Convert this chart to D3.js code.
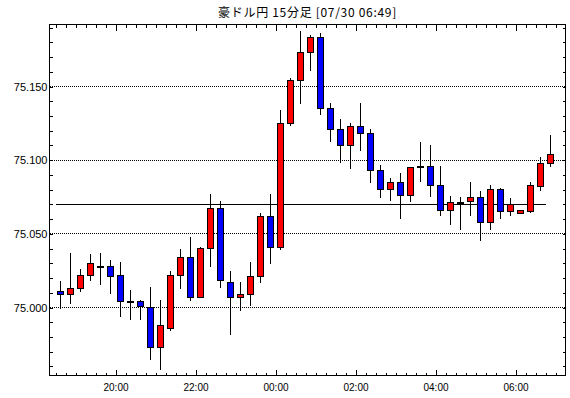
<!DOCTYPE html>
<html>
<head>
<meta charset="utf-8">
<script src="https://cdnjs.cloudflare.com/ajax/libs/d3/7.8.5/d3.min.js"></script>
<style>
  body { margin: 0; background: #fff; }
  svg { display: block; }
  .ylab { font-family: "Liberation Sans", Arial, sans-serif; font-size: 11px; }
  .xlab { font-family: "Liberation Sans", Arial, sans-serif; font-size: 10px; }
</style>
</head>
<body>
<div id="chart"></div>
<script>
// 15-minute candles, AUD/JPY
var times = [
  "07/29 18:30", "07/29 18:45", "07/29 19:00", "07/29 19:15", "07/29 19:30", "07/29 19:45",
  "07/29 20:00", "07/29 20:15", "07/29 20:30", "07/29 20:45", "07/29 21:00", "07/29 21:15",
  "07/29 21:30", "07/29 21:45", "07/29 22:00", "07/29 22:15", "07/29 22:30", "07/29 22:45",
  "07/29 23:00", "07/29 23:15", "07/29 23:30", "07/29 23:45",
  "07/30 00:00", "07/30 00:15", "07/30 00:30", "07/30 00:45", "07/30 01:00", "07/30 01:15",
  "07/30 01:30", "07/30 01:45", "07/30 02:00", "07/30 02:15", "07/30 02:30", "07/30 02:45",
  "07/30 03:00", "07/30 03:15", "07/30 03:30", "07/30 03:45", "07/30 04:00", "07/30 04:15",
  "07/30 04:30", "07/30 04:45", "07/30 05:00", "07/30 05:15", "07/30 05:30", "07/30 05:45",
  "07/30 06:00", "07/30 06:15", "07/30 06:30", "07/30 06:45"
];
var opens = [
  75.011, 75.009, 75.013, 75.022, 75.028, 75.028, 75.022, 75.004, 75.004, 75.000,
  74.973, 74.986, 75.022, 75.034, 75.007, 75.040, 75.067, 75.017, 75.007, 75.009,
  75.021, 75.062, 75.041, 75.125, 75.154, 75.173, 75.183, 75.135, 75.121, 75.110,
  75.123, 75.118, 75.093, 75.080, 75.085, 75.076, 75.095, 75.096, 75.083, 75.066,
  75.071, 75.072, 75.075, 75.058, 75.080, 75.065, 75.064, 75.065, 75.082, 75.098
];
var highs = [
  75.018, 75.037, 75.026, 75.036, 75.037, 75.032, 75.031, 75.012, 75.005, 75.014,
  75.005, 75.025, 75.040, 75.048, 75.041, 75.077, 75.072, 75.025, 75.017, 75.031,
  75.064, 75.077, 75.134, 75.156, 75.188, 75.185, 75.186, 75.139, 75.128, 75.125,
  75.139, 75.121, 75.097, 75.088, 75.091, 75.095, 75.112, 75.110, 75.096, 75.076,
  75.075, 75.085, 75.079, 75.083, 75.081, 75.074, 75.066, 75.085, 75.102, 75.117
];
var lows = [
  75.000, 75.003, 75.011, 75.019, 75.016, 75.010, 74.994, 74.992, 74.992, 74.965,
  74.958, 74.985, 75.013, 75.005, 75.007, 75.028, 75.014, 74.982, 74.998, 75.002,
  75.017, 75.030, 75.040, 75.124, 75.139, 75.161, 75.131, 75.113, 75.099, 75.095,
  75.107, 75.085, 75.075, 75.073, 75.061, 75.072, 75.086, 75.076, 75.063, 75.057,
  75.053, 75.063, 75.046, 75.053, 75.061, 75.063, 75.064, 75.065, 75.080, 75.096
];
var closes = [
  75.009, 75.013, 75.022, 75.030, 75.028, 75.021, 75.004, 75.004, 75.001, 74.973,
  74.988, 75.022, 75.034, 75.007, 75.040, 75.067, 75.018, 75.007, 75.009, 75.021,
  75.062, 75.041, 75.125, 75.154, 75.173, 75.183, 75.135, 75.121, 75.110, 75.123,
  75.118, 75.093, 75.080, 75.085, 75.076, 75.095, 75.096, 75.083, 75.066, 75.071,
  75.071, 75.075, 75.058, 75.080, 75.065, 75.070, 75.066, 75.083, 75.098, 75.104
];
var refLine = 75.070;
var title = "豪ドル円 15分足 [07/30 06:49]";

var svgWidth = 570, svgHeight = 398;
var frame = { left: 49.5, right: 565.5, top: 24.5, bottom: 375.5 };

var parseTime = d3.timeParse("%Y/%m/%d %H:%M");
var data = times.map(function(t, i) {
  return {
    date: parseTime("2020/" + t),
    open: opens[i], high: highs[i], low: lows[i], close: closes[i]
  };
});

var svg = d3.select("#chart").append("svg")
  .attr("width", svgWidth)
  .attr("height", svgHeight);

// x: 10px per 15 minutes
var x = d3.scaleTime()
  .domain([parseTime("2020/07/30 00:00"), parseTime("2020/07/30 02:00")])
  .range([275.5, 355.5]);

var y = d3.scaleLinear()
  .domain([75.000, 75.150])
  .range([307.5, 86.5]);

function snap(v) { return Math.round(v - 0.5) + 0.5; }

var xMin = x.invert(frame.left), xMax = x.invert(frame.right);
var yTickScale = y.copy().domain([y.invert(frame.bottom), y.invert(frame.top)]);

var minorX = d3.timeMinute.every(15).range(xMin, xMax);
var majorX = d3.timeHour.every(2).range(xMin, xMax);
var minorY = d3.range(Math.ceil(yTickScale.domain()[0] * 100), Math.floor(yTickScale.domain()[1] * 100) + 1)
  .map(function(d) { return d / 100; });
var gridY = minorY.filter(function(d) { return Math.round(d * 1000) % 50 === 0; });

var g = svg.append("g").attr("shape-rendering", "crispEdges");

// dotted grid
g.selectAll(".grid").data(gridY).enter().append("line")
  .attr("x1", frame.left).attr("x2", frame.right)
  .attr("y1", function(d) { return snap(y(d)); })
  .attr("y2", function(d) { return snap(y(d)); })
  .attr("stroke", "#000")
  .attr("stroke-dasharray", "1,1");

// reference line
g.append("line")
  .attr("x1", x(data[0].date)).attr("x2", x(data[data.length - 1].date))
  .attr("y1", snap(y(refLine))).attr("y2", snap(y(refLine)))
  .attr("stroke", "#000");

// axes: ticks inward on all four sides
function drawTicks(gen, sel) {
  sel.call(gen);
  sel.select(".domain").remove();
  sel.selectAll("line").attr("stroke", "#000");
}
var xb = g.append("g").attr("transform", "translate(0," + frame.bottom + ")");
drawTicks(d3.axisBottom(x).tickValues(minorX).tickSize(-3).tickSizeOuter(0).tickFormat(""), xb.append("g"));
var xbMajor = xb.append("g");
drawTicks(d3.axisBottom(x).tickValues(majorX).tickSize(-6).tickSizeOuter(0).tickPadding(8)
  .tickFormat(d3.timeFormat("%H:%M")), xbMajor);
xbMajor.selectAll("text").attr("class", "xlab").attr("fill", "#000")
  .attr("font-family", null).attr("font-size", null);

var xt = g.append("g").attr("transform", "translate(0," + frame.top + ")");
drawTicks(d3.axisTop(x).tickValues(minorX).tickSize(-3).tickSizeOuter(0).tickFormat(""), xt.append("g"));
drawTicks(d3.axisTop(x).tickValues(majorX).tickSize(-6).tickSizeOuter(0).tickFormat(""), xt.append("g"));

var yl = g.append("g").attr("transform", "translate(" + frame.left + ",0)");
drawTicks(d3.axisLeft(y).tickValues(minorY).tickSize(-3).tickSizeOuter(0).tickFormat(""), yl.append("g"));
var ylLab = yl.append("g");
drawTicks(d3.axisLeft(y).tickValues(gridY).tickSize(0).tickSizeOuter(0).tickPadding(2)
  .tickFormat(d3.format(".3f")), ylLab);
ylLab.selectAll("text").attr("class", "ylab").attr("fill", "#000")
  .attr("font-family", null).attr("font-size", null);

var yr = g.append("g").attr("transform", "translate(" + frame.right + ",0)");
drawTicks(d3.axisRight(y).tickValues(minorY).tickSize(-3).tickSizeOuter(0).tickFormat(""), yr.append("g"));

// candles
var half = 7.5 * 60 * 1000;
var candles = g.selectAll(".candle").data(data).enter().append("g");

candles.append("line")
  .attr("x1", function(d) { return snap(x(+d.date + half)); })
  .attr("x2", function(d) { return snap(x(+d.date + half)); })
  .attr("y1", function(d) { return Math.round(y(d.high)); })
  .attr("y2", function(d) { return Math.round(y(d.low)) + 1; })
  .attr("stroke", "#000");

candles.append("rect")
  .attr("x", function(d) { return snap(x(+d.date + half)) - 3; })
  .attr("width", 6)
  .attr("y", function(d) { return snap(y(Math.max(d.open, d.close))); })
  .attr("height", function(d) {
    var h = snap(y(Math.min(d.open, d.close))) - snap(y(Math.max(d.open, d.close)));
    return Math.max(h, 1);
  })
  .attr("fill", function(d) {
    if (d.close > d.open) return "#ff0000";
    if (d.close < d.open) return "#0000ff";
    return "#000";
  })
  .attr("stroke", "#000");

// frame
g.append("rect")
  .attr("x", frame.left).attr("y", frame.top)
  .attr("width", frame.right - frame.left)
  .attr("height", frame.bottom - frame.top)
  .attr("fill", "none")
  .attr("stroke", "#000");

// title
svg.append("text")
  .attr("x", (frame.left + frame.right) / 2)
  .attr("y", 17)
  .attr("text-anchor", "middle")
  .style("font-family", "'Noto Sans CJK JP', sans-serif")
  .style("font-size", "12px")
  .style("letter-spacing", "0.7px")
  .text(title);
</script>
</body>
</html>
